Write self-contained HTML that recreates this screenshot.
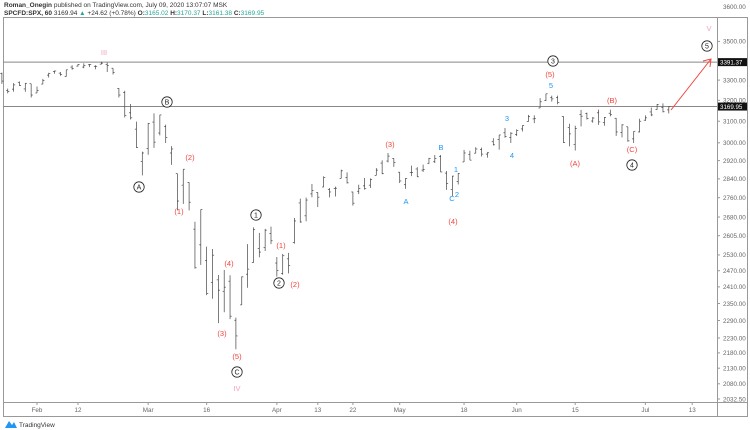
<!DOCTYPE html>
<html><head><meta charset="utf-8"><style>
html,body{margin:0;padding:0;background:#fff;width:750px;height:430px;overflow:hidden;font-family:"Liberation Sans",sans-serif}
svg{position:absolute;left:0;top:0}
</style></head><body>
<svg id="chart" width="750" height="430" viewBox="0 0 750 430" xmlns="http://www.w3.org/2000/svg">
<text x="4" y="7" font-size="6.5" fill="#333"><tspan font-weight="bold">Roman_Onegin</tspan> published on TradingView.com, July 09, 2020 13:07:07 MSK</text>
<text x="4" y="15" font-size="6.5" fill="#333"><tspan font-weight="bold">SPCFD:SPX, 60</tspan> 3169.94 <tspan fill="#26a69a">▲</tspan> +24.62 (+0.78%) <tspan font-weight="bold">O:</tspan><tspan fill="#26a69a">3165.02</tspan> <tspan font-weight="bold">H:</tspan><tspan fill="#26a69a">3170.37</tspan> <tspan font-weight="bold">L:</tspan><tspan fill="#26a69a">3161.38</tspan> <tspan font-weight="bold">C:</tspan><tspan fill="#26a69a">3169.95</tspan></text>
<rect x="3.5" y="17.5" width="744" height="399" fill="none" stroke="#999" stroke-width="1"/>
<line x1="717.5" y1="17" x2="717.5" y2="417" stroke="#999"/>
<line x1="3" y1="402.5" x2="748" y2="402.5" stroke="#999"/>
<g id="yaxis"></g><g id="xaxis"></g><g id="hlines"></g><g id="bars"></g><g id="notes"></g>
<g>
<path d="M5 428 L9 421 L12 425 L14 422 L17 428 Z" fill="#2196f3"/>
<text x="19" y="427" font-size="6.5" fill="#333">TradingView</text>
</g>
</svg>
<script>
const dates=["Jan24","Jan27","Jan28","Jan29","Jan30","Jan31","Feb3","Feb4","Feb5","Feb6","Feb7","Feb10","Feb11","Feb12","Feb13","Feb14","Feb18","Feb19","Feb20","Feb21","Feb24","Feb25","Feb26","Feb27","Feb28","Mar2","Mar3","Mar4","Mar5","Mar6","Mar9","Mar10","Mar11","Mar12","Mar13","Mar16","Mar17","Mar18","Mar19","Mar20","Mar23","Mar24","Mar25","Mar26","Mar27","Mar30","Mar31","Apr1","Apr2","Apr3","Apr6","Apr7","Apr8","Apr9","Apr13","Apr14","Apr15","Apr16","Apr17","Apr20","Apr21","Apr22","Apr23","Apr24","Apr27","Apr28","Apr29","Apr30","May1","May4","May5","May6","May7","May8","May11","May12","May13","May14","May15","May18","May19","May20","May21","May22","May26","May27","May28","May29","Jun1","Jun2","Jun3","Jun4","Jun5","Jun8","Jun9","Jun10","Jun11","Jun12","Jun15","Jun16","Jun17","Jun18","Jun19","Jun22","Jun23","Jun24","Jun25","Jun26","Jun29","Jun30","Jul1","Jul2","Jul6","Jul7","Jul8"];
const opens=[3334,3248,3255,3289,3256,3282,3236,3280,3325,3344,3335,3319,3366,3371,3366,3378,3370,3381,3380,3360,3258,3238,3140,3063,2916,2974,3096,3045,3075,2954,2863,2813,2825,2631,2569,2508,2426,2436,2394,2431,2291,2345,2457,2501,2555,2558,2614,2499,2459,2515,2578,2738,2685,2776,2782,2805,2795,2799,2842,2846,2784,2787,2810,2813,2855,2909,2918,2930,2869,2815,2868,2883,2878,2908,2915,2939,2865,2794,2829,2914,2948,2953,2970,2949,3005,3015,3046,3025,3038,3064,3098,3111,3163,3199,3213,3213,3123,3071,2993,3131,3136,3101,3140,3094,3138,3114,3047,3074,3018,3050,3105,3144,3155,3166,3154];
const highs=[3338,3258,3285,3293,3285,3282,3268,3306,3337,3348,3341,3352,3375,3381,3385,3381,3375,3393,3389,3360,3260,3247,3182,3098,2960,3091,3137,3130,3084,2985,2863,2882,2825,2661,2711,2562,2553,2454,2473,2453,2300,2449,2572,2638,2616,2632,2641,2522,2534,2538,2676,2756,2760,2818,2782,2851,2801,2807,2880,2868,2785,2815,2844,2842,2887,2921,2954,2930,2869,2844,2898,2891,2902,2932,2945,2945,2874,2853,2865,2968,2964,2980,2978,2957,3021,3036,3068,3049,3062,3081,3130,3128,3211,3233,3223,3223,3123,3088,3079,3154,3141,3120,3155,3120,3155,3115,3086,3074,3053,3112,3128,3165,3182,3185,3171];
const lows=[3281,3234,3242,3271,3242,3214,3236,3280,3313,3332,3322,3317,3352,3369,3360,3366,3355,3379,3341,3328,3214,3118,3108,2977,2855,2946,2977,3034,2999,2901,2707,2734,2707,2478,2492,2380,2367,2281,2319,2295,2192,2345,2407,2500,2521,2545,2572,2448,2455,2460,2574,2657,2663,2762,2721,2805,2761,2765,2842,2820,2727,2775,2794,2801,2855,2860,2912,2892,2822,2797,2852,2848,2870,2906,2909,2869,2793,2766,2816,2914,2922,2953,2938,2933,2988,2969,3023,2999,3031,3052,3098,3091,3163,3197,3194,3181,2999,2984,2965,3076,3108,3093,3083,3079,3123,3032,3025,3005,2999,3048,3101,3124,3155,3142,3137];
const closes=[3295,3244,3276,3273,3284,3226,3249,3298,3334,3346,3328,3352,3358,3380,3374,3380,3370,3386,3373,3338,3226,3128,3116,2979,2954,3090,3003,3130,3024,2972,2746,2882,2741,2481,2711,2386,2529,2398,2409,2305,2237,2447,2476,2630,2541,2627,2585,2471,2527,2489,2664,2660,2750,2790,2762,2846,2784,2800,2875,2823,2737,2799,2798,2837,2878,2863,2940,2912,2831,2842,2868,2849,2881,2930,2930,2870,2820,2852,2864,2954,2922,2972,2949,2955,2991,3036,3029,3044,3056,3080,3122,3112,3193,3232,3207,3190,3002,3041,3066,3124,3113,3115,3097,3117,3131,3050,3083,3009,3053,3100,3116,3130,3179,3145,3169];
const yTicks=[3500,3300,3200,3100,3000,2920,2840,2760,2680,2605,2530,2470,2410,2350,2290,2230,2180,2130,2080,2032.5];
const xTickLabels=["Feb","12","Mar","16","Apr","13","22","May","18","Jun","15","Jul","13"];
const xTickIdx=[6,13,25,35,47,54,60,68,79,88,98,110,118];
const levelPrices=[3391.37,3169.95];

const NS="http://www.w3.org/2000/svg";
function y(p){return 399-658*Math.log(p/2032.5);}
function x(i){return 1.9+i*5.85;}
function mk(tag,attrs,parent){const e=document.createElementNS(NS,tag);for(const k in attrs)e.setAttribute(k,attrs[k]);document.getElementById(parent).appendChild(e);return e;}

yTicks.forEach(v=>{
  const t=mk('text',{x:723,y:y(v)+2.3,'font-size':6.3,fill:'#666'},'yaxis');
  
  
  t.textContent=v.toFixed(2);
  mk('line',{x1:717,x2:720,y1:y(v),y2:y(v),stroke:'#999'},'yaxis');
});
{const t=mk('text',{x:723,y:9,'font-size':6.3,fill:'#666'},'yaxis');


t.textContent='3600.00';}

xTickLabels.forEach((l,k)=>{
  const t=mk('text',{x:x(xTickIdx[k]),y:412,'font-size':6.3,fill:'#666','text-anchor':'middle'},'xaxis');
  
  
  t.textContent=l;
  mk('line',{x1:x(xTickIdx[k]),x2:x(xTickIdx[k]),y1:402,y2:405,stroke:'#999'},'xaxis');
});

levelPrices.forEach((p,k)=>{
  const ln=mk('line',{x1:3,x2:717,y1:y(p),y2:y(p),stroke:'#888','stroke-width':1},'hlines');
  
  
  const r=mk('rect',{x:718,y:y(p)-4,width:29,height:8,fill:'#111'},'hlines');
  
  
  const t=mk('text',{x:720,y:y(p)+2.3,'font-size':6.2,fill:'#fff'},'hlines');
  t.textContent=p.toFixed(2);
});

for(let i=0;i<closes.length;i++){
  const cx=x(i);
  const g=mk('g',{stroke:'#444','stroke-width':0.7},'bars');
  
  
  const w=1.6;
  g.innerHTML=`<line x1="${cx}" x2="${cx}" y1="${y(highs[i])}" y2="${y(lows[i])}"/><line x1="${cx-w}" x2="${cx}" y1="${y(opens[i])}" y2="${y(opens[i])}"/><line x1="${cx}" x2="${cx+w}" y1="${y(closes[i])}" y2="${y(closes[i])}"/>`;
}

const notes=[
 ["III",104,55,"#f4a0b8","t"],["IV",237,391,"#f4a0b8","t"],["V",709,31,"#f4a0b8","t"],
 ["B",167,102,"#222","c"],["A",139,187,"#222","c"],["C",237,372,"#222","c"],
 ["(2)",190,160,"#f0443c","t"],["(1)",179,214,"#f0443c","t"],["(4)",229,266,"#f0443c","t"],["(3)",222,336,"#f0443c","t"],["(5)",237,359,"#f0443c","t"],
 ["1",256,215,"#222","c"],["(1)",281,248,"#f0443c","t"],["2",279,283,"#222","c"],["(2)",295,287,"#f0443c","t"],
 ["(3)",390,147,"#f0443c","t"],["A",406,204,"#2196f3","t"],["B",441,150,"#2196f3","t"],["1",456,172,"#2196f3","t"],["C",452,201,"#2196f3","t"],["2",457,197,"#2196f3","t"],["(4)",453,224,"#f0443c","t"],
 ["3",507,121,"#2196f3","t"],["4",512,158,"#2196f3","t"],["5",551,88,"#2196f3","t"],["(5)",550,77,"#f0443c","t"],["3",553,61,"#222","c"],
 ["(A)",575,166,"#f0443c","t"],["(B)",612,103,"#f0443c","t"],["(C)",632,152,"#f0443c","t"],["4",632,165,"#222","c"],["5",707,46,"#222","c"]
];
notes.forEach(n=>{
  if(n[4]==="c"){
    mk('circle',{cx:n[1],cy:n[2],r:5.2,fill:'#fff',stroke:n[3],'stroke-width':0.8},'notes');
    const t=mk('text',{x:n[1],y:n[2]+2.5,'font-size':7,fill:n[3],'text-anchor':'middle'},'notes');
    
    
    t.textContent=n[0];
  } else {
    const t=mk('text',{x:n[1],y:n[2],'font-size':7.5,fill:n[3],'text-anchor':'middle'},'notes');
    
    
    t.textContent=n[0];
  }
});
const ar=mk('g',{stroke:'#f0443c','stroke-width':1,fill:'none'},'notes');


ar.innerHTML='<line x1="671" y1="110" x2="711" y2="59"/><polyline points="703,61 711,59 710,67"/>';
</script>
</body></html>
